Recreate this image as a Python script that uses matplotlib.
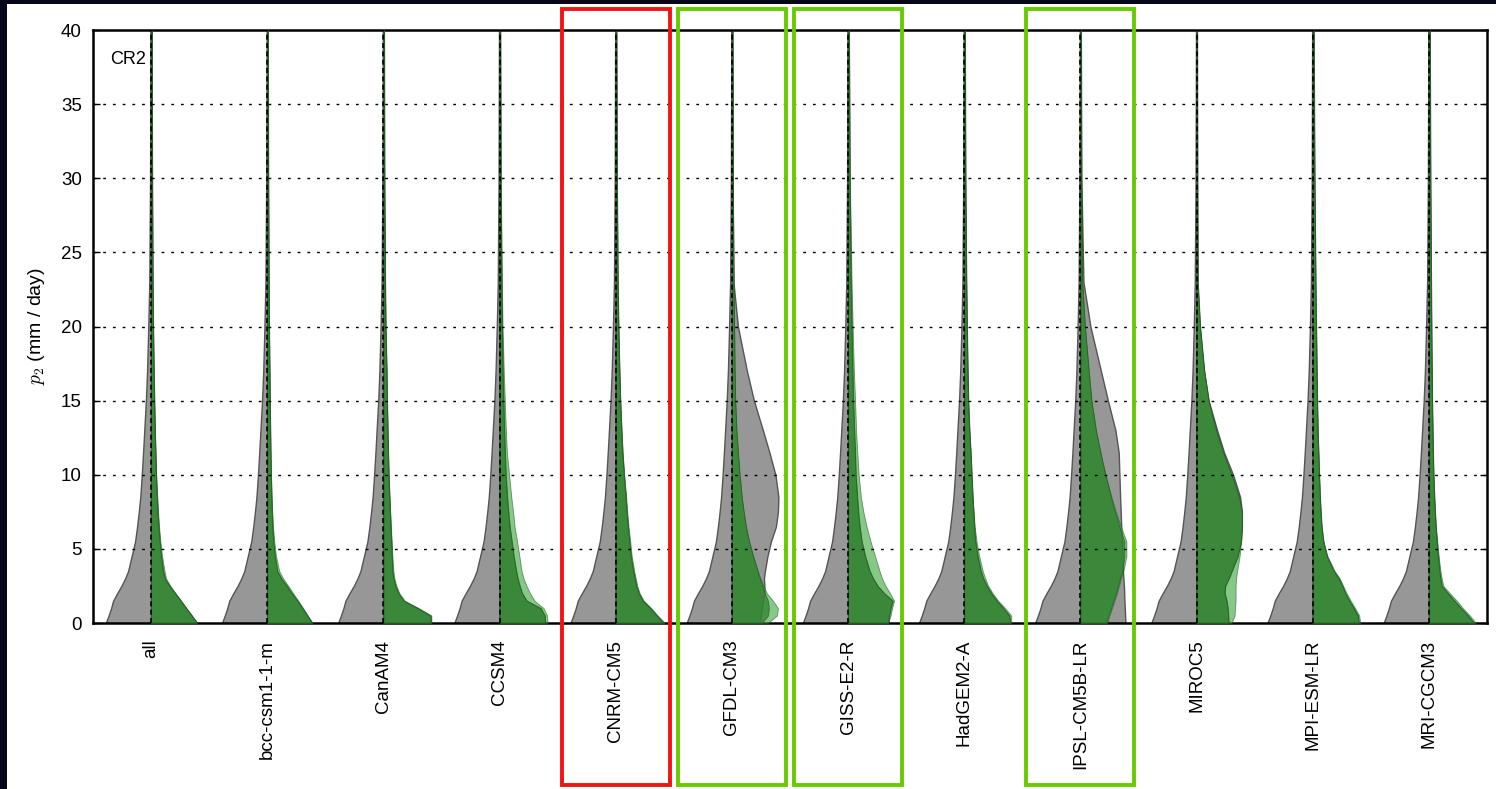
import numpy as np
import matplotlib
matplotlib.use("Agg")
import matplotlib.pyplot as plt
from matplotlib.patches import Rectangle
from matplotlib.transforms import blended_transform_factory

plt.rcParams["font.family"] = ["Liberation Sans", "DejaVu Sans"]
plt.rcParams["mathtext.fontset"] = "cm"

# ---- data -------------------------------------------------------------
MODELS = ["all", "bcc-csm1-1-m", "CanAM4", "CCSM4", "CNRM-CM5", "GFDL-CM3",
          "GISS-E2-R", "HadGEM2-A", "IPSL-CM5B-LR", "MIROC5", "MPI-ESM-LR",
          "MRI-CGCM3"]
REGIME = "CR2"

# p2 levels (mm/day) at which the density profiles are given
P2_LEVELS = [0, 0.5, 1, 1.5, 2, 2.5, 3, 3.5, 4.5, 5.5, 6.5, 7.5, 8.5, 10,
             11.5, 13, 15, 17, 20, 23, 30, 40]

# reference (observed) density, left half of every violin
OBS_DENSITY = [45.3, 42.5, 40, 38, 34, 29.7, 26, 23, 19.5, 16, 14, 12.3, 10.8,
               9.3, 8, 6.8, 5.2, 4, 2.8, 1.8, 1.0, 0.6]

# model density, run 1 (dark green), one row per model
RUN1_DENSITY = [
    [46, 40.5, 35, 29.5, 24, 18.5, 13.8, 12, 10, 8.5, 7.3, 6.4, 5.7, 4.8, 4.2, 3.6, 3, 2.5, 1.8, 1.4, 0.9, 0.5],
    [45, 40, 35, 30, 24.5, 19.5, 14, 10, 7.5, 6, 5, 4.5, 4, 3.5, 3.1, 2.8, 2.4, 2.1, 1.6, 1.3, 0.8, 0.5],
    [47.5, 47, 34, 20, 15, 12, 10, 9, 8.3, 7.7, 7, 6.4, 5.8, 5, 4.5, 4, 3.4, 3, 2, 1.5, 0.8, 0.5],
    [45.5, 45, 41, 27, 22.5, 20, 18, 16.5, 14, 12, 10, 8.6, 7.4, 6, 5.2, 4.5, 3.7, 3, 2.2, 1.7, 0.9, 0.5],
    [48, 41, 34.5, 27, 23, 20.5, 19, 17.5, 15, 13.5, 12, 10.8, 9.8, 8, 6.5, 5.5, 4.3, 3.5, 2.5, 1.8, 1, 0.5],
    [30, 36, 37, 36, 33, 30.5, 28, 25.5, 21, 17, 14, 11.8, 9.8, 7.7, 6, 4.5, 3.3, 2.7, 2.2, 1.6, 0.9, 0.5],
    [40, 41, 42.5, 44.5, 36, 29.5, 25, 21.5, 17, 13.5, 11.5, 10, 9, 7.5, 6.8, 6, 5, 4.3, 3.4, 2.6, 1.4, 0.7],
    [46, 45, 39, 32.5, 27, 22.5, 19, 16.5, 13.3, 11, 9.8, 9, 8.2, 7.2, 6.2, 5, 3.8, 3.2, 2.5, 1.9, 1, 0.5],
    [26, 28, 30.5, 33, 35.5, 37.5, 39.5, 42, 44, 44, 39, 34.5, 30.5, 25, 20, 15.5, 11, 8.3, 4.5, 1.8, 0.8, 0.4],
    [32, 31.5, 31, 30, 28, 28.5, 32, 35, 41, 44.3, 45.3, 45.3, 42.5, 35, 26.5, 19.5, 12, 7.5, 3.3, 1, 0.6, 0.4],
    [46, 45, 41, 36.5, 32.5, 29.5, 26, 21, 14, 10.5, 8.7, 7.8, 7, 6.2, 5.5, 4.8, 4.2, 3.8, 3.2, 2.6, 1.6, 0.8],
    [45, 39, 32, 25.5, 19, 12.8, 11.5, 10.5, 9, 7.8, 6.7, 5.9, 5.2, 4.4, 3.9, 3.5, 3, 2.7, 2.3, 2, 1.3, 0.8],
]

# model density, run 2 (light green), one row per model
RUN2_DENSITY = [
    [46, 40.7, 35.3, 30, 24.5, 19.2, 15, 13.5, 11, 9.3, 8, 7, 6.2, 5, 4.4, 3.8, 3.2, 2.7, 2, 1.5, 1, 0.5],
    [45, 40.5, 36, 31, 26, 21, 16, 12, 8.8, 7, 5.8, 5, 4.4, 3.7, 3.2, 2.9, 2.5, 2.2, 1.7, 1.4, 0.9, 0.5],
    [48, 48, 35.5, 21.5, 16, 13, 11, 10, 9, 8.3, 7.5, 6.8, 6.1, 5.2, 4.6, 4.1, 3.5, 3, 2, 1.5, 0.8, 0.5],
    [48, 47.5, 44, 35, 30.5, 27, 24, 22, 19.8, 17.5, 15, 13.5, 11.7, 9.5, 7.3, 6.3, 5.2, 4.2, 3, 2.3, 1.2, 0.6],
    [49, 42, 35.5, 28, 24, 21.5, 20, 18.5, 16, 14.5, 12.8, 11.5, 10.4, 8.5, 6.9, 5.8, 4.5, 3.6, 2.5, 1.8, 1, 0.5],
    [36, 45, 46, 41, 35, 31.5, 28.5, 26, 21.5, 17.3, 14, 11.8, 9.8, 7.7, 6, 4.5, 3.3, 2.7, 2.2, 1.6, 0.9, 0.5],
    [40, 42.5, 44, 46, 42, 37.5, 34, 31.5, 27, 22.5, 18.5, 15.3, 12.8, 10.6, 9.2, 8, 7, 5.8, 4.6, 3.5, 1.8, 0.8],
    [47, 47, 41, 34, 28.5, 24, 21, 18.5, 15, 12.3, 10.5, 9.4, 8.2, 7.2, 6.2, 5, 3.8, 3.2, 2.5, 1.9, 1, 0.5],
    [27, 29, 31.5, 34, 36.5, 38.5, 40.5, 43, 46, 46, 40.5, 35.5, 31, 25, 20, 15.5, 11, 8.3, 4.5, 1.8, 0.8, 0.4],
    [35, 38, 38.5, 39, 39, 39, 39.5, 40.5, 43, 44.5, 45.3, 45.3, 42.5, 35, 26.5, 19.5, 12, 7.5, 3.3, 1, 0.6, 0.4],
    [47.5, 46.5, 42.5, 38, 34, 30.5, 27, 22, 14.8, 10.5, 8.7, 7.8, 7, 6.2, 5.5, 4.8, 4.2, 3.8, 3.2, 2.6, 1.6, 0.8],
    [47, 41, 34, 28, 21, 14.5, 12.8, 11.5, 9.8, 8.3, 6.7, 5.9, 5.2, 4.4, 3.9, 3.5, 3, 2.7, 2.3, 2, 1.3, 0.8],
]

# model density, control run (gray, right half); equals run 1 unless listed
CONTROL_DENSITY = {
    "GFDL-CM3": [28, 29, 30, 31, 32.5, 32.5, 32, 33, 35.5, 39, 44, 46, 46.5, 43.5,
                 37.5, 31, 22, 15, 6, 1.5, 0.7, 0.4],
    "IPSL-CM5B-LR": [45, 44.7, 44.4, 44, 43.8, 43.5, 43, 42.5, 42, 41.5, 40.8, 40.3,
                     39.7, 39, 38.3, 35, 27.5, 20.5, 10, 3, 0.9, 0.4],
    "MIROC5": [32, 31.5, 31, 30, 28, 28.5, 32, 35, 41, 44.3, 45.3, 45.3, 43.5, 36.5,
               27.5, 20.5, 12, 7.5, 3.3, 1, 0.6, 0.4],
}

HIGHLIGHT_RED = ["CNRM-CM5"]
HIGHLIGHT_GREEN = ["GFDL-CM3", "GISS-E2-R", "IPSL-CM5B-LR"]

Y_TICKS = [0, 5, 10, 15, 20, 25, 30, 35, 40]

# ---- drawing ----------------------------------------------------------
W, H, DPI = 1496, 789, 100
fig = plt.figure(figsize=(W / DPI, H / DPI), dpi=DPI, facecolor="white")

# dark frame strips along the top and left edge
fig.patches.append(Rectangle((0, 1 - 4 / H), 1, 4 / H, transform=fig.transFigure,
                             facecolor="#07071a", edgecolor="none", zorder=0))
fig.patches.append(Rectangle((0, 0), 7 / W, 1, transform=fig.transFigure,
                             facecolor="#07071a", edgecolor="none", zorder=0))

ax = fig.add_axes([93 / W, 1 - 623 / H, (1487 - 93) / W, (623 - 30) / H])

levels = np.asarray(P2_LEVELS, dtype=float)
scale = 1.0 / 116.2   # density units -> category-slot units

GRAY = "#979797"
GRAY_EDGE = "#555555"
LIGHT = (0.22, 0.64, 0.22)
DARK = (0.18, 0.50, 0.18)
GREEN_EDGE = (0.12, 0.36, 0.12)

obs = np.asarray(OBS_DENSITY) * scale
for i, name in enumerate(MODELS):
    run1 = np.asarray(RUN1_DENSITY[i]) * scale
    run2 = np.asarray(RUN2_DENSITY[i]) * scale
    ctrl = np.asarray(CONTROL_DENSITY.get(name, RUN1_DENSITY[i])) * scale

    ax.fill_betweenx(levels, i - obs, i, facecolor=GRAY, edgecolor=GRAY_EDGE,
                     linewidth=1.0, zorder=2)
    ax.fill_betweenx(levels, i, i + ctrl, facecolor=GRAY, edgecolor=GRAY_EDGE,
                     linewidth=1.0, zorder=2)
    ax.fill_betweenx(levels, i, i + run2, facecolor=LIGHT, alpha=0.6,
                     edgecolor=GREEN_EDGE, linewidth=0.6, zorder=3)
    ax.fill_betweenx(levels, i, i + run1, facecolor=DARK, alpha=0.72,
                     edgecolor=GREEN_EDGE, linewidth=0.6, zorder=4)
    ax.plot([i, i], [levels[0], levels[-1]], color="black", linewidth=1.2,
            linestyle=(0, (3, 2)), zorder=6)

# dotted horizontal grid on top of the violins
for yt in Y_TICKS[1:-1]:
    ax.axhline(yt, color="black", linewidth=1.0, linestyle=(0, (2, 5)), zorder=5)

ax.set_xlim(-0.5, len(MODELS) - 0.5)
ax.set_ylim(0, 40)
ax.set_yticks(Y_TICKS)
ax.set_xticks(range(len(MODELS)))
ax.set_xticklabels(MODELS, rotation=90, fontsize=13.5)
ax.tick_params(axis="x", length=0, pad=12)
ax.tick_params(axis="y", direction="in", length=5, width=1, labelsize=13.5,
               right=True, pad=8)
for sp in ax.spines.values():
    sp.set_linewidth(1.8)
ax.set_ylabel(r"$p_2$ (mm / day)", fontsize=14, labelpad=10)
ax.text(0.012, 0.965, REGIME, transform=ax.transAxes, fontsize=13,
        ha="left", va="top")

# highlight boxes spanning the column and its label
trans = blended_transform_factory(ax.transData, fig.transFigure)
half = 0.465
for name in MODELS:
    if name in HIGHLIGHT_RED:
        color = "#f21414"
    elif name in HIGHLIGHT_GREEN:
        color = "#66cc00"
    else:
        continue
    i = MODELS.index(name)
    rect = Rectangle((i - half, 4 / H), 2 * half, (785 - 9) / H, transform=trans,
                     facecolor="none", edgecolor=color, linewidth=2.8,
                     clip_on=False, zorder=10)
    fig.patches.append(rect)

fig.savefig("out.png", dpi=DPI, facecolor="white")
